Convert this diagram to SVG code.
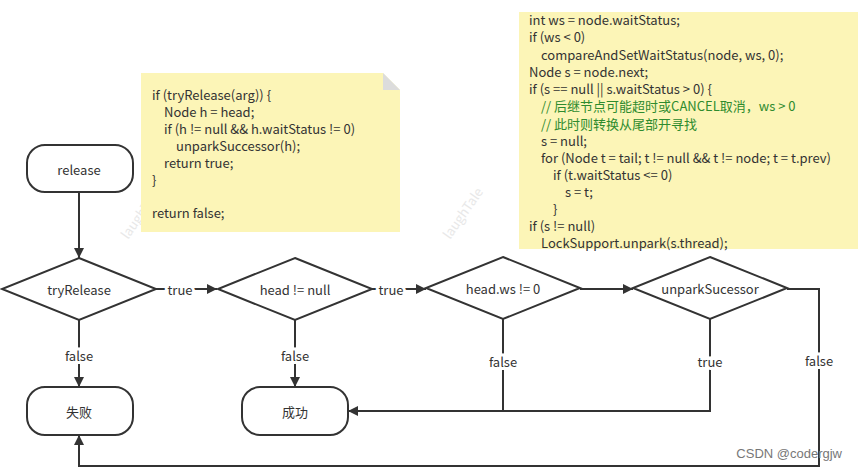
<svg xmlns="http://www.w3.org/2000/svg" width="858" height="471" viewBox="0 0 858 471">
<defs>
<marker id="arr" viewBox="0 0 10 10" refX="10" refY="5" markerWidth="10" markerHeight="10" markerUnits="userSpaceOnUse" orient="auto">
<path d="M0,0 L10,5 L0,10 Z" fill="#333"/>
</marker>
<style>
text{font-family:"Noto Sans CJK SC","Noto Sans",sans-serif;font-size:13px;fill:#333}
.node{fill:#fff;stroke:#333;stroke-width:2}
.c{text-anchor:middle;dominant-baseline:central}
.edge{fill:none;stroke:#333;stroke-width:2}
.lbl{text-anchor:middle;dominant-baseline:central;paint-order:stroke;stroke:#fff;stroke-width:6px}
.note{fill:#fcf5b7}
.code{font-size:13px;fill:#333}
.cm{fill:#2e8b2e}
.wm{font-size:13px;fill:#e8e8e8}
</style>
</defs>
<rect width="858" height="471" fill="#fff"/>
<text class="wm" transform="translate(128,240) rotate(-55)">laughTale</text>
<text class="wm" transform="translate(450,240) rotate(-55)">laughTale</text>
<g id="note1">
<path class="note" d="M141,73 H383 L400,90 V232 H141 Z"/>
<path d="M383,73 L400,90 H383 Z" fill="#dcdcdc"/>
<text class="code" x="152" y="100">if (tryRelease(arg)) {</text>
<text class="code" x="164" y="117">Node h = head;</text>
<text class="code" x="164" y="134">if (h != null &amp;&amp; h.waitStatus != 0)</text>
<text class="code" x="176" y="151">unparkSuccessor(h);</text>
<text class="code" x="164" y="168">return true;</text>
<text class="code" x="152" y="185">}</text>
<text class="code" x="152" y="218">return false;</text>
</g>
<g id="note2">
<rect class="note" x="519" y="12" width="339" height="237"/>
<text class="code" x="529" y="25">int ws = node.waitStatus;</text>
<text class="code" x="529" y="42">if (ws &lt; 0)</text>
<text class="code" x="541" y="60">compareAndSetWaitStatus(node, ws, 0);</text>
<text class="code" x="529" y="77">Node s = node.next;</text>
<text class="code" x="529" y="94">if (s == null || s.waitStatus &gt; 0) {</text>
<text class="code cm" x="541" y="111">// 后继节点可能超时或CANCEL取消，ws &gt; 0</text>
<text class="code cm" x="541" y="129">// 此时则转换从尾部开寻找</text>
<text class="code" x="541" y="146">s = null;</text>
<text class="code" x="541" y="163">for (Node t = tail; t != null &amp;&amp; t != node; t = t.prev)</text>
<text class="code" x="553" y="180">if (t.waitStatus &lt;= 0)</text>
<text class="code" x="565" y="197">s = t;</text>
<text class="code" x="553" y="214">}</text>
<text class="code" x="529" y="231">if (s != null)</text>
<text class="code" x="541" y="248">LockSupport.unpark(s.thread);</text>
</g>
<g id="connectors">
<path class="edge" d="M79,192 V258" marker-end="url(#arr)"/>
<path class="edge" d="M155,289 H217" marker-end="url(#arr)"/>
<path class="edge" d="M372,289 H426" marker-end="url(#arr)"/>
<path class="edge" d="M580,289 H633" marker-end="url(#arr)"/>
<path class="edge" d="M79,320 V387" marker-end="url(#arr)"/>
<path class="edge" d="M295,320 V387" marker-end="url(#arr)"/>
<path class="edge" d="M503,319 V411 H348" marker-end="url(#arr)"/>
<path class="edge" d="M710,319 V411 H503"/>
<path class="edge" d="M787,289 H819 V466 H79 V435" marker-end="url(#arr)"/>
<text class="lbl" x="180" y="289">true</text>
<text class="lbl" x="391" y="289">true</text>
<text class="lbl" x="79" y="355">false</text>
<text class="lbl" x="295" y="355">false</text>
<text class="lbl" x="503" y="361">false</text>
<text class="lbl" x="710" y="361">true</text>
<text class="lbl" x="819" y="360">false</text>
</g>
<g id="release">
<rect class="node" x="27" y="145" width="106" height="47" rx="18"/>
<text class="c" x="79" y="169">release</text>
</g>
<g id="tryRelease">
<path class="node" d="M79,258 L156,289 L79,320 L2,289 Z"/>
<text class="c" x="79" y="289">tryRelease</text>
</g>
<g id="headNotNull">
<path class="node" d="M295,258 L372,289 L295,320 L218,289 Z"/>
<text class="c" x="295" y="289">head != null</text>
</g>
<g id="headWs">
<path class="node" d="M503,257 L580,288 L503,319 L426,288 Z"/>
<text class="c" x="503" y="288">head.ws != 0</text>
</g>
<g id="unparkSucessor">
<path class="node" d="M710,257 L787,288 L710,319 L633,288 Z"/>
<text class="c" x="710" y="288">unparkSucessor</text>
</g>
<g id="fail">
<rect class="node" x="27" y="387" width="106" height="48" rx="18"/>
<text class="c" x="79" y="411">失败</text>
</g>
<g id="success">
<rect class="node" x="242" y="387" width="106" height="48" rx="18"/>
<text class="c" x="295" y="411">成功</text>
</g>
<text x="842" y="458" style="font-family:'Liberation Sans',sans-serif;font-size:13px;fill:#777;text-anchor:end">CSDN @codergjw</text>
</svg>
